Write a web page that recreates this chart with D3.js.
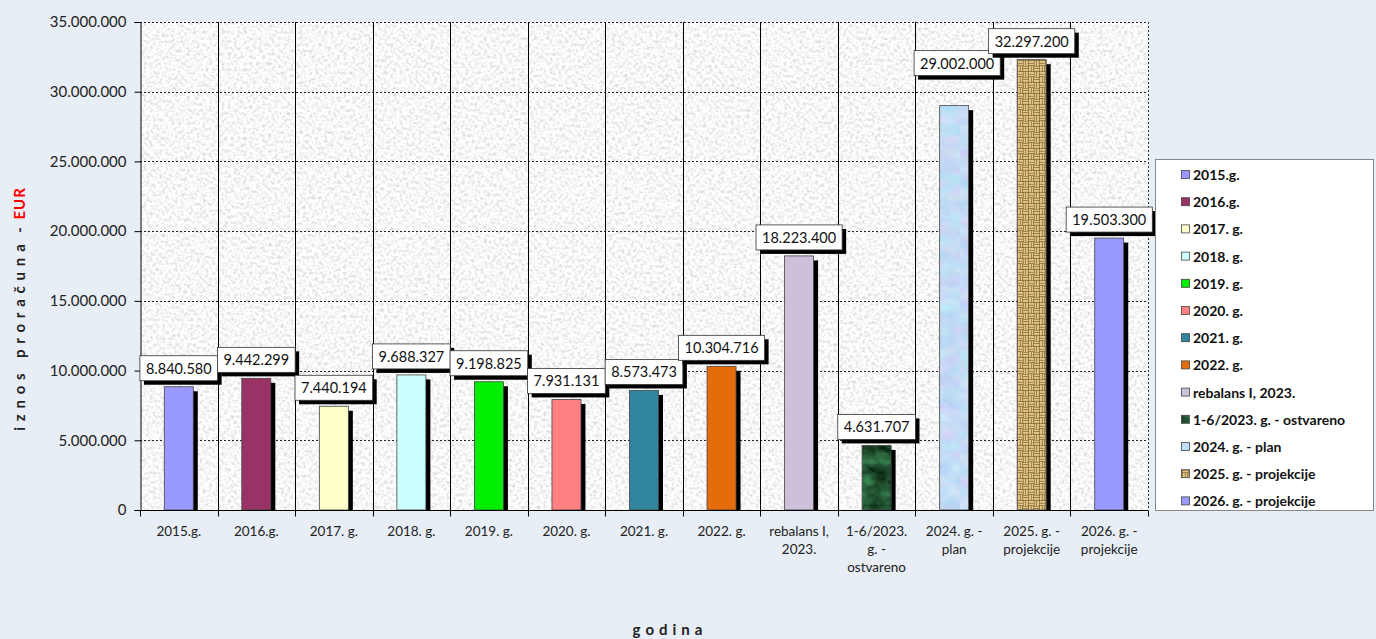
<!DOCTYPE html>
<html>
<head>
<meta charset="utf-8">
<script src="https://cdn.jsdelivr.net/npm/d3@7"></script>
<style>
  html, body { margin: 0; padding: 0; background: #e8eef6; }
  svg { display: block; font-family: Lato, "Open Sans", sans-serif; }
</style>
</head>
<body>
<svg id="chart" width="1376" height="639"></svg>
<script>
// ---- data ----
const categories = [
  "2015.g.", "2016.g.", "2017. g.", "2018. g.", "2019. g.", "2020. g.", "2021. g.", "2022. g.",
  "rebalans I,\n2023.", "1-6/2023.\ng. -\nostvareno", "2024. g. -\nplan",
  "2025. g. -\nprojekcije", "2026. g. -\nprojekcije"
];
const values = [8840580, 9442299, 7440194, 9688327, 9198825, 7931131, 8573473, 10304716,
  18223400, 4631707, 29002000, 32297200, 19503300];
const yTickValues = [0, 5000000, 10000000, 15000000, 20000000, 25000000, 30000000, 35000000];
const legendLabels = categories.map(c => c.replace(/\n/g, " "));

// ---- styles ----
const barFills = ["#9999ff", "#993366", "#ffffcc", "#ccffff", "#00ee00", "#ff8080", "#31859c",
  "#e46c0a", "#ccc0da", "url(#marbleGreen)", "url(#marbleBlue)", "url(#burlap)", "#9999ff"];
const labelNudge = {10: [3, -24]};

const svg = d3.select("#chart");
const plot = {left: 140, right: 1148, top: 22, bottom: 510};

const fmt = d3.formatLocale({decimal: ",", thousands: ".", grouping: [3], currency: ["", ""]}).format(",d");

// ---- defs (textures) ----
const defs = svg.append("defs");
const gran = defs.append("filter").attr("id", "granite")
  .attr("color-interpolation-filters", "sRGB")
  .attr("x", 0).attr("y", 0).attr("width", "100%").attr("height", "100%");
gran.append("feTurbulence").attr("type", "fractalNoise").attr("baseFrequency", 0.32)
  .attr("numOctaves", 3).attr("seed", 7);
gran.append("feColorMatrix").attr("type", "matrix")
  .attr("values", "0.34 0 0 0 0.8  0.34 0 0 0 0.8  0.34 0 0 0 0.8  0 0 0 0 1");

function marble(id, rowVals, freq) {
  const p = defs.append("pattern").attr("id", id).attr("patternUnits", "userSpaceOnUse")
    .attr("width", 60).attr("height", 520);
  const f = defs.append("filter").attr("id", id + "F")
    .attr("color-interpolation-filters", "sRGB")
    .attr("x", 0).attr("y", 0).attr("width", "100%").attr("height", "100%");
  f.append("feTurbulence").attr("type", "fractalNoise").attr("baseFrequency", freq)
    .attr("numOctaves", 4).attr("seed", 3);
  f.append("feColorMatrix").attr("type", "matrix").attr("values", rowVals);
  p.append("rect").attr("width", 60).attr("height", 520).attr("filter", `url(#${id}F)`);
}
marble("marbleGreen", "0.3 0 0 0 -0.02  0.6 0 0 0 0.02  0.4 0 0 0 -0.01  0 0 0 0 1", "0.06 0.09");
marble("marbleBlue", "0.22 0 0 0 0.66  0 0.14 0 0 0.79  0 0 0.06 0 0.93  0 0 0 0 1", "0.05 0.08");

const tile = 11, hq = tile / 2;
const bur = defs.append("pattern").attr("id", "burlap").attr("patternUnits", "userSpaceOnUse")
  .attr("width", tile).attr("height", tile);
bur.append("rect").attr("width", tile).attr("height", tile).attr("fill", "#6b4f22");
const strand = "#e3c686";
const sw = 1.9, g1 = 0.5, g2 = 3.0;
[[0, g1, hq, sw], [0, g2, hq, sw], [hq, hq + g1, hq, sw], [hq, hq + g2, hq, sw],
 [hq + g1, 0, sw, hq], [hq + g2, 0, sw, hq], [g1, hq, sw, hq], [g2, hq, sw, hq]].forEach(r => {
  bur.append("rect").attr("x", r[0]).attr("y", r[1]).attr("width", r[2]).attr("height", r[3]).attr("fill", strand);
});

// ---- scales ----
const x = d3.scaleBand().domain(categories).range([plot.left, plot.right]).padding(0);
const y = d3.scaleLinear().domain([0, 35000000]).range([plot.bottom, plot.top]);
const barW = 29;

// ---- plot background ----
svg.append("rect").attr("x", plot.left).attr("y", plot.top)
  .attr("width", plot.right - plot.left).attr("height", plot.bottom - plot.top)
  .attr("filter", "url(#granite)");

// horizontal gridlines
svg.append("g").selectAll("line").data(yTickValues.filter(v => v > 0)).join("line")
  .attr("x1", plot.left).attr("x2", plot.right)
  .attr("y1", d => Math.round(y(d)) + 0.5).attr("y2", d => Math.round(y(d)) + 0.5)
  .attr("stroke", "#222").attr("stroke-width", 1).attr("stroke-dasharray", "2,2");

// vertical category separators
svg.append("g").selectAll("line").data(categories.slice(1)).join("line")
  .attr("x1", d => Math.round(x(d)) + 0.5).attr("x2", d => Math.round(x(d)) + 0.5)
  .attr("y1", plot.top).attr("y2", plot.bottom)
  .attr("stroke", "#000").attr("stroke-width", 1);
svg.append("line").attr("x1", plot.right + 0.5).attr("x2", plot.right + 0.5)
  .attr("y1", plot.top).attr("y2", plot.bottom)
  .attr("stroke", "#333").attr("stroke-dasharray", "2,2");

// ---- bars ----
const bars = svg.append("g");
categories.forEach((c, i) => {
  const cx = x(c) + x.bandwidth() / 2;
  const top = y(values[i]);
  const h = plot.bottom - top;
  bars.append("rect").attr("x", cx - barW / 2 + 4.5).attr("y", top + 4.5)
    .attr("width", barW).attr("height", Math.max(0, h - 4.5)).attr("fill", "#000");
  bars.append("rect").attr("x", cx - barW / 2).attr("y", top)
    .attr("width", barW).attr("height", h).attr("fill", barFills[i])
    .attr("stroke", "#444").attr("stroke-width", 0.8);
});

// ---- axes ----
const yAxis = d3.axisLeft(y).tickValues(yTickValues).tickFormat(fmt).tickSize(6).tickPadding(8);
const gy = svg.append("g").attr("transform", `translate(${plot.left + 0.5},0)`).call(yAxis);
gy.select(".domain").attr("stroke", "#000");
gy.selectAll(".tick line").attr("stroke", "#000");
gy.selectAll(".tick text").attr("font-size", 15).attr("fill", "#222")
  .attr("font-family", "Lato, sans-serif");

const gx = svg.append("g").attr("transform", `translate(0,${plot.bottom + 0.5})`);
gx.append("line").attr("x1", plot.left).attr("x2", plot.right).attr("stroke", "#000");
const bounds = categories.map(c => x(c)).concat([plot.right]);
gx.selectAll("line.tk").data(bounds).join("line").attr("class", "tk")
  .attr("x1", d => Math.round(d) + 0.5).attr("x2", d => Math.round(d) + 0.5)
  .attr("y1", 0).attr("y2", 6).attr("stroke", "#000");
categories.forEach(c => {
  const t = gx.append("text").attr("x", x(c) + x.bandwidth() / 2).attr("y", 25)
    .attr("text-anchor", "middle").attr("font-size", 13.5).attr("fill", "#222");
  c.split("\n").forEach((line, k) => {
    t.append("tspan").attr("x", x(c) + x.bandwidth() / 2).attr("dy", k === 0 ? 0 : 18).text(line);
  });
});

// ---- value labels ----
const labels = svg.append("g");
categories.forEach((c, i) => {
  const nud = labelNudge[i] || [0, 0];
  const cx = x(c) + x.bandwidth() / 2 + nud[0];
  const bottom = y(values[i]) - 6 + nud[1];
  const g = labels.append("g");
  const t = g.append("text").attr("x", cx).attr("y", bottom - 7)
    .attr("text-anchor", "middle").attr("font-size", 14.5).attr("fill", "#111")
    .text(fmt(values[i]));
  const tw = t.node().getComputedTextLength();
  const bw = tw + 12, bh = 25;
  g.insert("rect", "text").attr("x", cx - bw / 2 + 4).attr("y", bottom - bh + 4)
    .attr("width", bw).attr("height", bh).attr("fill", "#000");
  g.insert("rect", "text").attr("x", cx - bw / 2).attr("y", bottom - bh)
    .attr("width", bw).attr("height", bh).attr("fill", "#fff")
    .attr("stroke", "#333").attr("stroke-width", 0.8);
});

// ---- axis titles ----
const yt = svg.append("text")
  .attr("transform", `translate(25,309) rotate(-90)`)
  .attr("text-anchor", "middle").attr("font-size", 15).attr("font-weight", "bold").attr("fill", "#222");
yt.append("tspan").attr("letter-spacing", 5.8).text("iznos proračuna");
yt.append("tspan").attr("letter-spacing", 2).text(" - ");
yt.append("tspan").attr("fill", "#ff0000").attr("letter-spacing", 1).text("EUR");

svg.append("text").attr("x", 670).attr("y", 635).attr("text-anchor", "middle")
  .attr("font-size", 15).attr("font-weight", "bold").attr("letter-spacing", 5).attr("fill", "#222")
  .text("godina");

// ---- legend ----
const lg = svg.append("g");
lg.append("rect").attr("x", 1155.5).attr("y", 159.5).attr("width", 218).attr("height", 351)
  .attr("fill", "#fff").attr("stroke", "#888");
legendLabels.forEach((l, i) => {
  const yy = 175 + i * 27.2;
  lg.append("rect").attr("x", 1181.5).attr("y", yy - 4.5).attr("width", 8).attr("height", 8)
    .attr("fill", barFills[i]).attr("stroke", "#444").attr("stroke-width", 0.8);
  lg.append("text").attr("x", 1193).attr("y", yy + 5).attr("font-size", 14).attr("font-weight", "bold")
    .attr("fill", "#111").text(l);
});
</script>
</body>
</html>
